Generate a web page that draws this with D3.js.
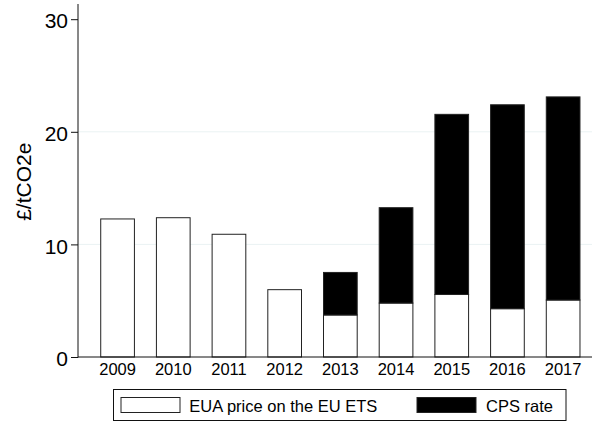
<!DOCTYPE html>
<html>
<head>
<meta charset="utf-8">
<script src="https://cdn.jsdelivr.net/npm/d3@7"></script>
<style>
  html, body { margin: 0; padding: 0; background: #fff; }
  svg { display: block; font-family: "Liberation Sans", Arial, sans-serif; }
</style>
</head>
<body>
<svg id="chart" width="592" height="421"></svg>
<script>
const years = ["2009","2010","2011","2012","2013","2014","2015","2016","2017"];
const euaPrice = [12.26, 12.37, 10.90, 5.98, 3.73, 4.79, 5.55, 4.29, 5.06];
const cpsRate  = [0, 0, 0, 0, 3.78, 8.47, 16.0, 18.11, 18.04];
const yTicks = [0, 10, 20, 30];
const gridTicks = [10, 20];
const seriesNames = ["EUA price on the EU ETS", "CPS rate"];
const seriesColors = ["#ffffff", "#000000"];

(function () {
const svg = d3.select("#chart");
const mLeft = 78, mRight = 592, mBottom = 357, mTop = 4;

const x = d3.scaleBand().domain(years).range([mLeft, 602.7]).paddingInner(0.395).paddingOuter(0.408);
const y = d3.scaleLinear().domain([0, 31.35]).range([mBottom, mTop]);

// gridlines
svg.append("g").selectAll("line").data(gridTicks).join("line")
  .attr("x1", mLeft).attr("x2", mRight)
  .attr("y1", d => y(d)).attr("y2", d => y(d))
  .attr("stroke", "#eaf2f3").attr("stroke-width", 1);

// stacked data
const stackData = years.map((yr, i) => ({year: yr, eua: euaPrice[i], cps: cpsRate[i]}));
const stack = d3.stack().keys(["eua", "cps"])(stackData);

const barG = svg.append("g");
stack.forEach((layer, li) => {
  barG.append("g").selectAll("rect").data(layer.filter(d => d[1] - d[0] > 0)).join("rect")
    .attr("x", d => x(d.data.year))
    .attr("width", x.bandwidth())
    .attr("y", d => y(d[1]))
    .attr("height", d => y(d[0]) - y(d[1]))
    .attr("fill", seriesColors[li])
    .attr("stroke", "#222")
    .attr("stroke-width", 1);
});

// axes
const yAxis = d3.axisLeft(y).tickValues(yTicks).tickSize(7).tickPadding(3).tickFormat(d3.format("d"));
const yg = svg.append("g").attr("transform", `translate(${mLeft},0)`).call(yAxis);
yg.select(".domain").remove();
yg.selectAll("line").attr("stroke", "#111");
yg.selectAll("text").attr("font-size", 21).attr("fill", "#000").attr("dy", "0.41em")
  .attr("font-family", "Liberation Sans, Arial, sans-serif");

const xAxis = d3.axisBottom(x).tickSize(0).tickPadding(6.3);
const xg = svg.append("g").attr("transform", `translate(0,${mBottom})`).call(xAxis);
xg.select(".domain").remove();
xg.selectAll("text").attr("font-size", 16.5).attr("fill", "#000")
  .attr("font-family", "Liberation Sans, Arial, sans-serif");

// axis lines
svg.append("line").attr("x1", mLeft).attr("x2", mLeft).attr("y1", mTop).attr("y2", mBottom + 0.5)
  .attr("stroke", "#111").attr("stroke-width", 1);
svg.append("line").attr("x1", mLeft).attr("x2", mRight).attr("y1", mBottom).attr("y2", mBottom)
  .attr("stroke", "#111").attr("stroke-width", 1);

// y title
svg.append("text").attr("transform", "translate(31,181.7) rotate(-90)")
  .attr("text-anchor", "middle").attr("font-size", 21).attr("fill", "#000")
  .text("£/tCO2e");

// legend
const lg = svg.append("g");
lg.append("rect").attr("x", 113.5).attr("y", 389.5).attr("width", 452.5).attr("height", 31)
  .attr("fill", "#fff").attr("stroke", "#111").attr("stroke-width", 1);
const keyX = [121, 417];
const textX = [189.3, 486];
seriesNames.forEach((name, i) => {
  lg.append("rect").attr("x", keyX[i]).attr("y", 397.5).attr("width", 59).attr("height", 15)
    .attr("fill", seriesColors[i]).attr("stroke", "#222").attr("stroke-width", 1);
  lg.append("text").attr("x", textX[i]).attr("y", 411.5).attr("font-size", 16.5).attr("fill", "#000")
    .text(name);
});
})();
</script>
</body>
</html>
